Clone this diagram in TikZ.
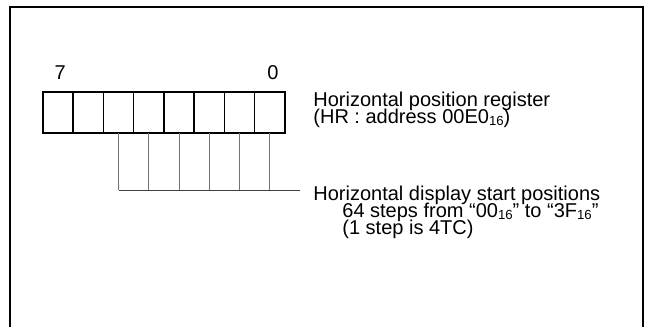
\documentclass[tikz,border=0pt]{standalone}
\usepackage{fontspec}
\setmainfont{Liberation Sans}
\usetikzlibrary{positioning,calc}

\newcommand{\hexsub}[1]{\raisebox{-0.25ex}{\fontsize{6.6}{6}\selectfont #1}}

\begin{document}
\begin{tikzpicture}[x=0.5pt, y=-0.5pt,
    regcell/.style={draw, line width=0.75pt, minimum width=15.125pt, minimum height=20.5pt, inner sep=0pt, outer sep=0pt},
    bitnum/.style={font=\fontsize{10}{12}\selectfont, inner sep=0pt, anchor=base},
    desc/.style={font=\fontsize{10}{12}\selectfont, inner sep=0pt, anchor=base west},
    busline/.style={line width=0.5pt, black!55},
  ]
    \useasboundingbox (0,0) rectangle (650,327);

    % --- outer frame (open at the bottom) ---
    \draw[line width=1pt] (10,327) -- (10,7) -- (643,7) -- (643,327);

    % --- HR register, bit 7 on the left ---
    \foreach \i [evaluate=\i as \xc using 43+30.25*(7.5-\i)] in {0,...,7}
        \node[regcell] (bit\i) at (\xc,112.5) {};

    \node[bitnum] (num7) at ([xshift=1pt, yshift=6.5pt]bit7.north) {7};
    \node[bitnum] (num0) at ([xshift=1.5pt, yshift=6.5pt]bit0.north) {0};

    % --- register description ---
    \node[desc] (hrname) at (313,106) {Horizontal position register};
    \node[desc] (hraddr) at (313,123) {(HR : address 00E0\hexsub{16})};

    % --- bits 5 to 0 gathered onto one line ---
    \coordinate (busend) at (300,190);
    \foreach \i in {0,...,5}
        \draw[busline] (bit\i.south) -- (bit\i.south |- busend);
    \draw[line width=0.5pt, black!75] (bit5.south |- busend) -- (busend);

    \node[desc] (hdsp) at (313,200) {Horizontal display start positions};
    \node[desc] (hsteps) at (342,217) {64 steps from “00\hexsub{16}” to “3F\hexsub{16}”};
    \node[desc] (hunit) at (342,234) {(1 step is 4TC)};
\end{tikzpicture}
\end{document}
